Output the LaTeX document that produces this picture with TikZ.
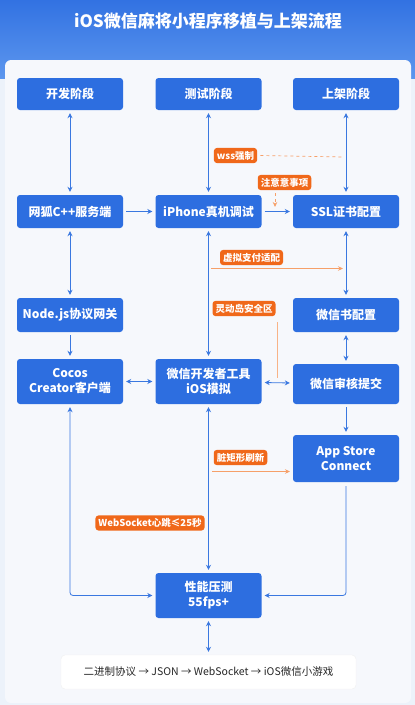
\documentclass[tikz,border=0pt]{standalone}
\usepackage{fontspec}
\setmainfont{Noto Sans CJK SC}
\usetikzlibrary{arrows.meta}
\definecolor{bgc}{RGB}{236,242,250}
\definecolor{panelc}{RGB}{246,248,252}
\definecolor{boxblue}{RGB}{45,110,224}
\definecolor{lineblue}{RGB}{58,120,224}
\definecolor{orng}{RGB}{240,104,26}
\definecolor{lorng}{RGB}{246,160,105}
\definecolor{topblue}{RGB}{50,114,226}
\definecolor{midblue}{RGB}{92,150,238}
\tikzset{
  box/.style={draw=none, fill=boxblue, text=white, rounded corners=3pt, minimum width=106pt, align=center, inner sep=0pt, font=\bfseries\fontsize{12}{15}\selectfont},
  tag/.style={fill=orng, text=white, rounded corners=3pt, inner xsep=3pt, inner ysep=3pt, font=\bfseries\fontsize{9.5}{11}\selectfont},
  conn/.style={draw=lineblue, line width=0.8pt, -{Stealth[length=5pt,width=5pt]}, shorten >=3pt, shorten <=3pt},
  dbl/.style={draw=lineblue, line width=0.8pt, {Stealth[length=5pt,width=5pt]}-{Stealth[length=5pt,width=5pt]}, shorten >=3pt, shorten <=3pt},
  oconn/.style={draw=lorng, line width=0.8pt, -{Stealth[length=5pt,width=4.5pt]}},
}
\begin{document}
\begin{tikzpicture}[x=1pt,y=-1pt]
\useasboundingbox (0,0) rectangle (415,705);
\fill[bgc] (0,0) rectangle (415,705);
\shade[top color=topblue, bottom color=midblue] (0,0) rectangle (415,78);
\fill[panelc, rounded corners=6pt] (5,60) rectangle (411,703);
\node[text=white, font=\bfseries\fontsize{17}{20}\selectfont] (title) at (208,21) {iOS微信麻将小程序移植与上架流程};

\node[box, minimum height=32pt] (dev) at (70,94) {开发阶段};
\node[box, minimum height=32pt] (test) at (208.5,94) {测试阶段};
\node[box, minimum height=32pt] (rel) at (346,94) {上架阶段};

\node[box, minimum height=33pt] (wh) at (70,211.5) {网狐C++服务端};
\node[box, minimum height=33pt] (iph) at (208.5,211.5) {iPhone真机调试};
\node[box, minimum height=33pt] (ssl) at (346,211.5) {SSL证书配置};

\node[box, minimum height=34pt] (nodejs) at (70,315) {Node.js协议网关};
\node[box, minimum height=34pt] (wxb) at (346,315) {微信书配置};

\node[box, minimum height=45pt] (cocos) at (70,381.5) {Cocos\\Creator客户端};
\node[box, minimum height=45pt] (wxdev) at (208.5,381.5) {微信开发者工具\\iOS模拟};
\node[box, minimum height=40pt] (audit) at (346,384) {微信审核提交};

\node[box, minimum height=47pt] (asc) at (346,458.5) {App Store\\Connect};

\node[box, minimum height=45pt] (perf) at (208.5,595.5) {性能压测\\55fps+};

\node[fill=white, draw=black!6, rounded corners=4pt, minimum width=295pt, minimum height=34pt, font=\fontsize{10.5}{12}\selectfont, text=black!85] (chain) at (208.5,672) {二进制协议 → JSON → WebSocket → iOS微信小游戏};

% blue connectors
\draw[dbl] (dev) -- (wh);
\draw[dbl] (test) -- (iph);
\draw[dbl] (rel) -- (ssl);
\draw[conn] (wh) -- (iph);
\draw[conn] (iph) -- (ssl);
\draw[dbl] (wh) -- (nodejs);
\draw[conn] (nodejs) -- (cocos);
\draw[dbl] (iph) -- (wxdev);
\draw[dbl] (ssl) -- (wxb);
\draw[dbl] (wxb) -- (audit);
\draw[dbl] (cocos) -- (wxdev);
\draw[dbl] (wxdev) -- (audit);
\draw[conn] (audit) -- (asc);
\draw[dbl, rounded corners=3pt] (cocos.south) |- (perf.west);
\draw[dbl] (wxdev) -- (perf);
\draw[conn, shorten <=4pt, rounded corners=3pt] (asc.south) |- (perf.east);
\draw[dbl] (perf) -- (chain);

% orange tags
\node[tag] (wss) at (235.5,155.5) {wss强制};
\coordinate (wssend) at (344,157);
\draw[lorng, line width=0.7pt, dashed] (wss.east) ++(3pt,0) -- (wssend);

\node[tag] (note) at (284.5,182.5) {注意意事项};
\coordinate (noteA) at (275,193);
\coordinate (noteB) at (275,207);
\draw[oconn, dashed] (noteA) -- (noteB);

\node[tag] (pay) at (251.5,257.5) {虚拟支付适配};
\coordinate (payA) at (211,268.5);
\coordinate (payB) at (343,268.5);
\draw[oconn] (payA) -- (payB);

\node[tag] (island) at (244,308.5) {灵动岛安全区};
\coordinate (islA) at (277,322);
\coordinate (islB) at (277,378);
\draw[lorng!80, line width=0.6pt] (islA) -- (islB);

\node[tag] (dirty) at (240.5,457.5) {脏矩形刷新};
\coordinate (dirA) at (212,471.5);
\coordinate (dirB) at (290,471.5);
\draw[oconn] (dirA) -- (dirB);

\node[tag] (ws) at (150,523) {WebSocket心跳≤25秒};
\end{tikzpicture}
\end{document}
